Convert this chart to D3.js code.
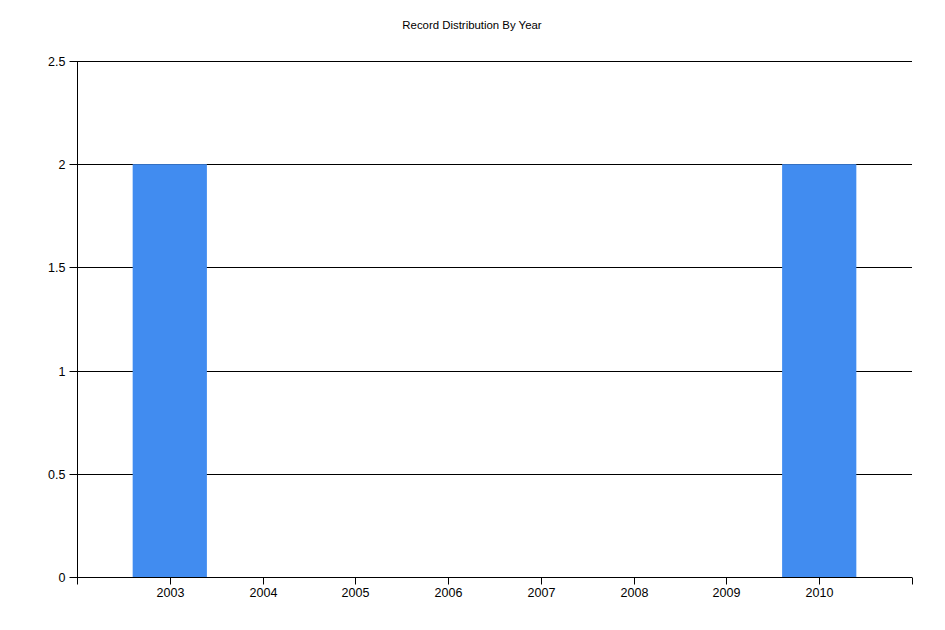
<!DOCTYPE html>
<html>
<head>
<meta charset="utf-8">
<script src="https://cdn.jsdelivr.net/npm/d3@7"></script>
<style>
  html, body { margin: 0; padding: 0; background: #fff; }
  svg { display: block; }
  text { font-family: "Liberation Sans", Arial, sans-serif; fill: #000; }
</style>
</head>
<body>
<div id="chart"></div>
<script>
const title = "Record Distribution By Year";
const years = [2003, 2004, 2005, 2006, 2007, 2008, 2009, 2010];
const counts = [2, 0, 0, 0, 0, 0, 0, 2];
const yTicks = [0, 0.5, 1, 1.5, 2, 2.5];

const W = 945, H = 630;
const margin = { left: 77, right: 33, top: 61, bottom: 53 };

const svg = d3.select("#chart").append("svg").attr("width", W).attr("height", H);

svg.append("text")
  .attr("x", 472).attr("y", 29)
  .attr("text-anchor", "middle")
  .style("font-size", "11.4px")
  .text(title);

const x = d3.scaleLinear()
  .domain([d3.min(years) - 1, d3.max(years) + 1])
  .range([margin.left, W - margin.right]);
const y = d3.scaleLinear()
  .domain([0, 2.5])
  .range([H - margin.bottom, margin.top]);

const unit = x(years[1]) - x(years[0]);
const barW = unit * 0.8;

// gridlines
svg.append("g").selectAll("line")
  .data(yTicks.filter(d => d > 0))
  .join("line")
  .attr("x1", margin.left).attr("x2", W - margin.right)
  .attr("y1", d => Math.round(y(d)) + 0.5).attr("y2", d => Math.round(y(d)) + 0.5)
  .attr("stroke", "#000").attr("stroke-width", 1);

// bars
svg.append("g").selectAll("rect")
  .data(years.map((yr, i) => ({ yr, v: counts[i] })).filter(d => d.v > 0))
  .join("rect")
  .attr("x", d => x(d.yr) - barW / 2)
  .attr("width", barW)
  .attr("y", d => y(d.v))
  .attr("height", d => y(0) - y(d.v))
  .attr("fill", "#418CF0");

// y axis
const yAxis = d3.axisLeft(y)
  .tickValues(yTicks)
  .tickFormat(d => String(d))
  .tickSize(8)
  .tickPadding(4);
const gy = svg.append("g")
  .attr("transform", `translate(${margin.left + 0.5},0)`)
  .call(yAxis);
gy.select(".domain").attr("stroke", "#000").attr("d", `M0,${margin.top}V${H - margin.bottom}`);
gy.selectAll(".tick line").attr("stroke", "#000");
gy.selectAll(".tick text").style("font-size", "12.5px").style("font-family", "Liberation Sans, Arial, sans-serif").attr("fill", "#000");
gy.selectAll(".tick").attr("transform", d => `translate(0,${Math.round(y(d)) + 0.5})`);

// x axis
const xTickVals = [d3.min(years) - 1, ...years, d3.max(years) + 1];
const xAxis = d3.axisBottom(x)
  .tickValues(xTickVals)
  .tickFormat(d => years.includes(d) ? String(d) : "")
  .tickSize(7)
  .tickPadding(4);
const gx = svg.append("g")
  .attr("transform", `translate(0,${H - margin.bottom + 0.5})`)
  .call(xAxis);
gx.select(".domain").attr("stroke", "#000").attr("d", `M${margin.left},0H${W - margin.right}`);
gx.selectAll(".tick line").attr("stroke", "#000");
gx.selectAll(".tick text").style("font-size", "12.5px").style("font-family", "Liberation Sans, Arial, sans-serif").attr("fill", "#000");
gx.selectAll(".tick").attr("transform", d => `translate(${Math.round(x(d)) + 0.5},0)`);
</script>
</body>
</html>
